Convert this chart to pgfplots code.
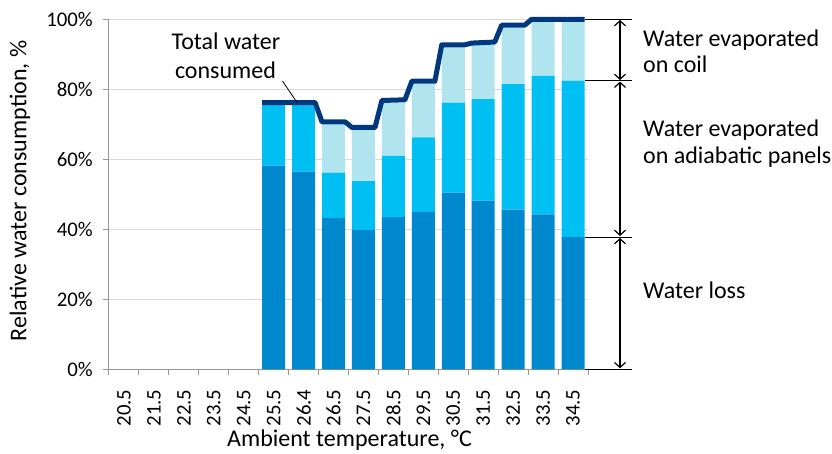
\documentclass[border=0pt]{standalone}
\usepackage{pgfplots}
\pgfplotsset{compat=1.18}
\usepackage{fontspec}
\setmainfont{Carlito}
\usetikzlibrary{arrows.meta,calc}
\definecolor{cDark}{RGB}{0,136,206}
\definecolor{cMed}{RGB}{0,192,243}
\definecolor{cLight}{RGB}{176,228,238}
\definecolor{cLine}{RGB}{0,56,128}
\definecolor{cGrid}{RGB}{217,217,217}
\definecolor{cAxis}{RGB}{150,150,150}
\pgfplotstableread{
x dark med light
5 58.2 17.3 0
6 56.5 19.0 0
7 43.2 13.0 13.8
8 39.8 14.0 14.6
9 43.5 17.5 15.1
10 45.0 21.3 15.3
11 50.5 25.7 15.8
12 48.2 29.0 15.5
13 45.6 35.9 16.1
14 44.3 39.5 15.5
15 37.8 44.7 16.8
}\stacks
\pgfplotstableread{
x total
4.615 76.2
5.385 76.2
5.615 76.2
6.385 76.2
6.615 70.7
7.385 70.7
7.615 69.1
8.385 69.1
8.615 76.8
9.385 77.0
9.615 82.3
10.385 82.3
10.615 92.7
11.385 92.7
11.615 93.2
12.385 93.5
12.615 98.3
13.385 98.3
13.615 100
14.385 100
14.615 100
15.385 100
}\totalline
\begin{document}
\fontsize{24}{29}\selectfont
\begin{tikzpicture}
\begin{axis}[name=ax, scale only axis, width=479pt, height=350pt,
  xmin=-0.5, xmax=15.5, ymin=0, ymax=100,
  ybar stacked, bar width=0.77,
  clip=false,
  axis x line*=bottom, axis y line*=left,
  axis line style={cAxis, line width=1pt},
  xtick={0,...,15},
  xticklabels={20.5,21.5,22.5,23.5,24.5,25.5,26.4,26.5,27.5,28.5,29.5,30.5,31.5,32.5,33.5,34.5},
  major x tick style={draw=none},
  minor xtick={-0.5,0.5,...,15.5},
  minor x tick style={cAxis, line width=1pt},
  minor tick length=6pt,
  major tick length=6pt,
  ytick={0,20,...,100},
  y tick style={cAxis, line width=1pt},
  /pgf/number format/assume math mode=true,
  yticklabel={\pgfmathprintnumber{\tick}\%},
  ymajorgrids, grid style={cGrid, line width=1pt},
  tick align=outside,
  every tick label/.append style={font=\fontsize{20.8}{25}\selectfont, text=black},
  xticklabel style={yshift=-14pt, rotate=90, anchor=east, inner sep=0pt},
  yticklabel style={anchor=east, inner sep=0pt, xshift=-10pt},
]
\addplot[fill=cDark, draw=none] table[x=x, y=dark] {\stacks};
\addplot[fill=cMed, draw=none] table[x=x, y=med] {\stacks};
\addplot[fill=cLight, draw=none] table[x=x, y=light] {\stacks};
\end{axis}
\begin{axis}[scale only axis, width=479pt, height=350pt,
  at={(ax.south west)}, anchor=south west,
  xmin=-0.5, xmax=15.5, ymin=0, ymax=100,
  hide axis, clip=false]
\addplot[cLine, line width=5pt, line join=round, mark=none] table[x=x, y=total] {\totalline};
\end{axis}
\begin{scope}[shift={($(ax.south west)+(-109pt,369.3pt)$)}, x=1pt, y=-1pt]
  \draw[line width=0.8pt] (282.5,81) -- (296.7,102);
  \node[anchor=base] at (226,49.5) {Total water};
  \node[anchor=base] at (225.5,78.3) {consumed};
  \node[rotate=90, anchor=base] at (26.5,191) {Relative water consumption, \%};
  \node[anchor=base] at (349.5,446.5) {Ambient temperature, °C};
  \foreach \yy in {19.3,80.6,237,369.3} {\draw[line width=1pt] (585,\yy) -- (632,\yy);}
  \draw[line width=1.2pt, {Straight Barb[length=5pt,width=11pt]}-{Straight Barb[length=5pt,width=11pt]}] (620,20) -- (620,80);
  \draw[line width=1.2pt, {Straight Barb[length=5pt,width=11pt]}-{Straight Barb[length=5pt,width=11pt]}] (620,81.6) -- (620,236);
  \draw[line width=1.2pt, {Straight Barb[length=5pt,width=11pt]}-{Straight Barb[length=5pt,width=11pt]}] (620,238) -- (620,368.3);
  \node[anchor=base west, inner sep=0pt] at (643,47) {Water evaporated};
  \node[anchor=base west, inner sep=0pt] at (643,73) {on coil};
  \node[anchor=base west, inner sep=0pt] at (643,137) {Water evaporated};
  \node[anchor=base west, inner sep=0pt] at (643,164) {on adiabatic panels};
  \node[anchor=base west, inner sep=0pt] at (643,298) {Water loss};
  \pgfresetboundingbox
  \path[use as bounding box] (0,0) rectangle (832,453);
\end{scope}
\end{tikzpicture}
\end{document}
